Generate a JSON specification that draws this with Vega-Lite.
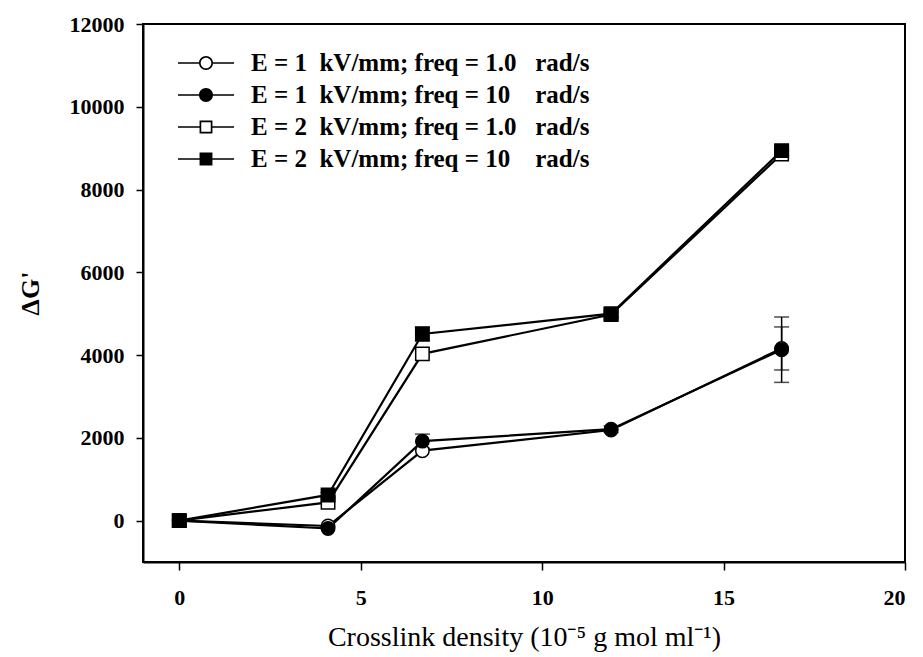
{
  "$schema": "https://vega.github.io/schema/vega-lite/v6.json",
  "width": 762,
  "height": 538,
  "autosize": {"type": "none"},
  "padding": {"left": 143, "top": 24, "right": 18, "bottom": 95},
  "background": "white",
  "config": {
    "view": {"stroke": "black", "strokeWidth": 2},
    "font": "Liberation Serif"
  },
  "datasets": {
    "pts": [
      {"series": "E = 1\u00a0\u00a0kV/mm; freq = 1.0\u00a0\u00a0\u00a0rad/s", "x": 0, "y": 0, "err": 0},
      {"series": "E = 1\u00a0\u00a0kV/mm; freq = 1.0\u00a0\u00a0\u00a0rad/s", "x": 4.1, "y": -130, "err": 0},
      {"series": "E = 1\u00a0\u00a0kV/mm; freq = 1.0\u00a0\u00a0\u00a0rad/s", "x": 6.7, "y": 1690, "err": 0},
      {"series": "E = 1\u00a0\u00a0kV/mm; freq = 1.0\u00a0\u00a0\u00a0rad/s", "x": 11.9, "y": 2190, "err": 0},
      {"series": "E = 1\u00a0\u00a0kV/mm; freq = 1.0\u00a0\u00a0\u00a0rad/s", "x": 16.6, "y": 4160, "err": 520},
      {"series": "E = 2\u00a0\u00a0kV/mm; freq = 1.0\u00a0\u00a0\u00a0rad/s", "x": 0, "y": 0, "err": 0},
      {"series": "E = 2\u00a0\u00a0kV/mm; freq = 1.0\u00a0\u00a0\u00a0rad/s", "x": 4.1, "y": 440, "err": 0},
      {"series": "E = 2\u00a0\u00a0kV/mm; freq = 1.0\u00a0\u00a0\u00a0rad/s", "x": 6.7, "y": 4030, "err": 0},
      {"series": "E = 2\u00a0\u00a0kV/mm; freq = 1.0\u00a0\u00a0\u00a0rad/s", "x": 11.9, "y": 4980, "err": 60},
      {"series": "E = 2\u00a0\u00a0kV/mm; freq = 1.0\u00a0\u00a0\u00a0rad/s", "x": 16.6, "y": 8860, "err": 90},
      {"series": "E = 2\u00a0\u00a0kV/mm; freq = 10\u00a0\u00a0\u00a0\u00a0rad/s", "x": 0, "y": 0, "err": 0},
      {"series": "E = 2\u00a0\u00a0kV/mm; freq = 10\u00a0\u00a0\u00a0\u00a0rad/s", "x": 4.1, "y": 620, "err": 60},
      {"series": "E = 2\u00a0\u00a0kV/mm; freq = 10\u00a0\u00a0\u00a0\u00a0rad/s", "x": 6.7, "y": 4510, "err": 170},
      {"series": "E = 2\u00a0\u00a0kV/mm; freq = 10\u00a0\u00a0\u00a0\u00a0rad/s", "x": 11.9, "y": 5000, "err": 80},
      {"series": "E = 2\u00a0\u00a0kV/mm; freq = 10\u00a0\u00a0\u00a0\u00a0rad/s", "x": 16.6, "y": 8940, "err": 130},
      {"series": "E = 1\u00a0\u00a0kV/mm; freq = 10\u00a0\u00a0\u00a0\u00a0rad/s", "x": 0, "y": 0, "err": 0},
      {"series": "E = 1\u00a0\u00a0kV/mm; freq = 10\u00a0\u00a0\u00a0\u00a0rad/s", "x": 4.1, "y": -190, "err": 0},
      {"series": "E = 1\u00a0\u00a0kV/mm; freq = 10\u00a0\u00a0\u00a0\u00a0rad/s", "x": 6.7, "y": 1920, "err": 170},
      {"series": "E = 1\u00a0\u00a0kV/mm; freq = 10\u00a0\u00a0\u00a0\u00a0rad/s", "x": 11.9, "y": 2210, "err": 80},
      {"series": "E = 1\u00a0\u00a0kV/mm; freq = 10\u00a0\u00a0\u00a0\u00a0rad/s", "x": 16.6, "y": 4130, "err": 790}
    ]
  },
  "data": {"name": "pts"},
  "layer": [
    {
      "mark": {"type": "line", "color": "black", "strokeWidth": 2.2},
      "encoding": {
        "x": {
          "field": "x", "type": "quantitative",
          "scale": {"domain": [-1, 20], "nice": false, "zero": false},
          "axis": {
            "values": [0, 5, 10, 15, 20],
            "grid": false,
            "domainColor": "black", "domainWidth": 2,
            "tickColor": "black", "tickWidth": 1.5, "tickSize": 8,
            "labelFont": "Liberation Serif", "labelFontWeight": "bold", "labelFontSize": 22, "labelColor": "black",
            "labelPadding": 17,
            "title": "Crosslink density (10\u207b\u2075 g mol ml\u207b\u00b9)",
            "titleFont": "Liberation Serif", "titleFontWeight": "normal", "titleFontSize": 28, "titleColor": "black",
            "titlePadding": 15
          }
        },
        "y": {
          "field": "y", "type": "quantitative",
          "title": "\u0394G'",
          "scale": {"domain": [-1000, 12000], "nice": false, "zero": false},
          "axis": {
            "values": [0, 2000, 4000, 6000, 8000, 10000, 12000],
            "format": "d",
            "grid": false,
            "domainColor": "black", "domainWidth": 2,
            "tickColor": "black", "tickWidth": 1.5, "tickSize": 7,
            "labelFont": "Liberation Serif", "labelFontWeight": "bold", "labelFontSize": 22, "labelColor": "black",
            "labelPadding": 12,
            "titleFont": "Liberation Serif", "titleFontWeight": "bold", "titleFontSize": 26, "titleColor": "black",
            "titlePadding": 26
          }
        },
        "detail": {"field": "series"}
      }
    },
    {
      "transform": [{"filter": "datum.err > 0"}],
      "mark": {"type": "errorbar", "color": "black", "thickness": 1.5, "ticks": {"size": 15, "thickness": 1.5, "color": "black"}},
      "encoding": {
        "x": {"field": "x", "type": "quantitative"},
        "y": {"field": "y", "type": "quantitative", "title": "\u0394G'"},
        "yError": {"field": "err"}
      }
    },
    {
      "mark": {"type": "point", "filled": true, "stroke": "black", "strokeWidth": 1.5, "size": 180, "opacity": 1},
      "encoding": {
        "x": {"field": "x", "type": "quantitative"},
        "y": {"field": "y", "type": "quantitative", "title": "\u0394G'"},
        "shape": {
          "field": "series", "type": "nominal", "legend": null,
          "scale": {
            "domain": [
              "E = 1\u00a0\u00a0kV/mm; freq = 1.0\u00a0\u00a0\u00a0rad/s",
              "E = 1\u00a0\u00a0kV/mm; freq = 10\u00a0\u00a0\u00a0\u00a0rad/s",
              "E = 2\u00a0\u00a0kV/mm; freq = 1.0\u00a0\u00a0\u00a0rad/s",
              "E = 2\u00a0\u00a0kV/mm; freq = 10\u00a0\u00a0\u00a0\u00a0rad/s"
            ],
            "range": ["circle", "circle", "square", "square"]
          }
        },
        "fill": {
          "field": "series", "type": "nominal", "legend": null,
          "scale": {
            "domain": [
              "E = 1\u00a0\u00a0kV/mm; freq = 1.0\u00a0\u00a0\u00a0rad/s",
              "E = 1\u00a0\u00a0kV/mm; freq = 10\u00a0\u00a0\u00a0\u00a0rad/s",
              "E = 2\u00a0\u00a0kV/mm; freq = 1.0\u00a0\u00a0\u00a0rad/s",
              "E = 2\u00a0\u00a0kV/mm; freq = 10\u00a0\u00a0\u00a0\u00a0rad/s"
            ],
            "range": ["white", "black", "white", "black"]
          }
        }
      }
    },
    {
      "transform": [{"filter": "datum.x < -100"}],
      "mark": {"type": "point", "filled": true, "color": "black", "opacity": 1},
      "encoding": {
        "x": {"field": "x", "type": "quantitative"},
        "y": {"field": "y", "type": "quantitative", "title": "\u0394G'"},
        "shape": {
          "field": "series", "type": "nominal",
          "scale": {
            "domain": [
              "E = 1\u00a0\u00a0kV/mm; freq = 1.0\u00a0\u00a0\u00a0rad/s",
              "E = 1\u00a0\u00a0kV/mm; freq = 10\u00a0\u00a0\u00a0\u00a0rad/s",
              "E = 2\u00a0\u00a0kV/mm; freq = 1.0\u00a0\u00a0\u00a0rad/s",
              "E = 2\u00a0\u00a0kV/mm; freq = 10\u00a0\u00a0\u00a0\u00a0rad/s"
            ],
            "range": [
              "M-2,-0.06H-0.5V0.06H-2ZM0.5,-0.06H2V0.06H0.5ZM0.5,0A0.5,0.5 0 1,1 -0.5,0A0.5,0.5 0 1,1 0.5,0ZM0.38,0A0.38,0.38 0 1,0 -0.38,0A0.38,0.38 0 1,0 0.38,0Z",
              "M-2,-0.06H-0.5V0.06H-2ZM0.5,-0.06H2V0.06H0.5ZM0.5,0A0.5,0.5 0 1,1 -0.5,0A0.5,0.5 0 1,1 0.5,0Z",
              "M-2,-0.06H-0.46V0.06H-2ZM0.46,-0.06H2V0.06H0.46ZM-0.46,-0.46H0.46V0.46H-0.46ZM-0.34,-0.34V0.34H0.34V-0.34Z",
              "M-2,-0.06H-0.46V0.06H-2ZM0.46,-0.06H2V0.06H0.46ZM-0.46,-0.46H0.46V0.46H-0.46Z"
            ]
          },
          "legend": {
            "title": null,
            "orient": "none",
            "legendX": 49,
            "legendY": 25,
            "padding": 0,
            "symbolSize": 784,
            "symbolFillColor": "black",
            "symbolStrokeWidth": 0,
            "labelFont": "Liberation Serif",
            "labelFontWeight": "bold",
            "labelFontSize": 25,
            "labelColor": "black",
            "labelLimit": 600,
            "labelOffset": 31,
            "rowPadding": 5
          }
        }
      }
    }
  ],
  "resolve": {"scale": {"shape": "independent", "fill": "independent"}}
}
